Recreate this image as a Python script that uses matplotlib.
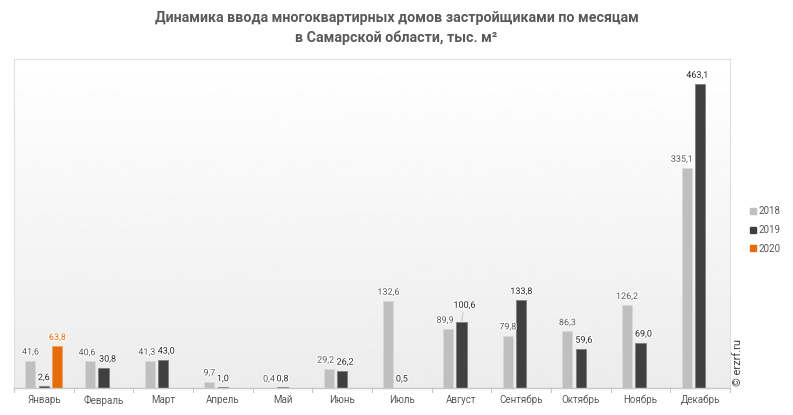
import numpy as np
import matplotlib
matplotlib.use("Agg")
import matplotlib.pyplot as plt
from matplotlib.lines import Line2D
import matplotlib.patheffects as pe

plt.rcParams['font.family'] = ['Roboto', 'DejaVu Sans']

months = ["Январь", "Февраль", "Март", "Апрель", "Май", "Июнь", "Июль",
          "Август", "Сентябрь", "Октябрь", "Ноябрь", "Декабрь"]
v2018 = [41.6, 40.6, 41.3, 9.7, 0.4, 29.2, 132.6, 89.9, 79.8, 86.3, 126.2, 335.1]
v2019 = [2.6, 30.8, 43.0, 1.0, 0.8, 26.2, 0.5, 100.6, 133.8, 59.6, 69.0, 463.1]
v2020 = [63.8]
years = ["2018", "2019", "2020"]
colors = ["#bfbfbf", "#404040", "#e46c0a"]
edges = ["#d9d9d9", "#7f7f7f", "#f0a060"]
label_colors = ["#595959", "#262626", "#e46c0a"]

# label nudges in pixels (dx, dy) so neighbouring labels don't collide
nudge2018 = [(0, 0), (-3, 0), (-3, 0), (0, 0), (0, 0), (-3, 0), (0, 0),
             (-3, 0), (0, 0), (0, 0), (0, 0), (-5, 0)]
nudge2019 = [(0, 0), (4, 0), (3, 0), (0, 0), (0, 0), (3, 0), (0, 0),
             (3, 8), (0, 0), (3, 0), (3, 0), (-3, 0)]
nudge2020 = [(0, 0)]

fig = plt.figure(figsize=(7.93, 4.15), dpi=100)
ax = fig.add_axes([14 / 793, 27 / 415, 716 / 793, 329 / 415])

# soft vertical gradient background
grad = np.linspace(0.925, 1.0, 256).reshape(-1, 1)
ax.imshow(grad, cmap="gray", vmin=0, vmax=1, extent=[0, 1, 0, 1],
          transform=ax.transAxes, aspect="auto", origin="lower", zorder=0)

x = np.arange(len(months))
w = 0.17
off = 0.226
series = [v2018, v2019, v2020]
nudges = [nudge2018, nudge2019, nudge2020]
for k, vals in enumerate(series):
    xs = x[:len(vals)] + (k - 1) * off
    ax.bar(xs, vals, width=w, color=colors[k], edgecolor=edges[k], linewidth=0.6, zorder=2)
    for xi, v, (dx, dy) in zip(xs, vals, nudges[k]):
        ax.annotate(f"{v:.1f}".replace(".", ","), xy=(xi, v), xytext=(dx * 0.72, 3 + dy * 0.72),
                    textcoords="offset points", ha="center", va="bottom",
                    fontsize=6.5, color=label_colors[k], zorder=3,
                    path_effects=[pe.withStroke(linewidth=1.5, foreground="white")],
                    arrowprops=dict(arrowstyle="-", color="#bfbfbf", lw=0.6,
                                    shrinkA=0, shrinkB=1) if dy else None)

ax.set_xlim(-0.5, len(months) - 0.5)
ax.set_ylim(0, 501)
ax.set_yticks([])
ax.set_xticks(x)
ax.set_xticklabels(months, fontsize=7, color="#595959")
ax.tick_params(axis="x", length=0, pad=5)
for b in np.arange(-0.5, len(months), 1.0):
    ax.plot([b, b], [0, -6], color="#c8c8c8", lw=0.8, clip_on=False, zorder=3)

for s in ["left", "right", "top"]:
    ax.spines[s].set_color("#e0e0e0")
    ax.spines[s].set_linewidth(0.8)
ax.spines["bottom"].set_color("#c8c8c8")
ax.spines["bottom"].set_linewidth(1.0)

fig.text(0.5, 1 - 28 / 415,
         "Динамика ввода многоквартирных домов застройщиками по месяцам\nв Самарской области, тыс. м²",
         ha="center", va="center", fontsize=10.3, fontweight="bold", color="#595959",
         linespacing=1.45)

handles = [Line2D([], [], marker="s", linestyle="none", markersize=5,
                  markerfacecolor=c, markeredgecolor=c) for c in colors]
fig.legend(handles, years, loc="center left", bbox_to_anchor=(740 / 793, 1 - 230 / 415),
           frameon=False, fontsize=7, labelcolor="#595959", handletextpad=0.2,
           labelspacing=0.9, handlelength=0.8)

fig.text(738 / 793, 27 / 415 + 2 / 415, "© erzrf.ru", rotation=90, ha="center", va="bottom",
         fontsize=8, color="#404040")

fig.savefig("out.png", dpi=100)
